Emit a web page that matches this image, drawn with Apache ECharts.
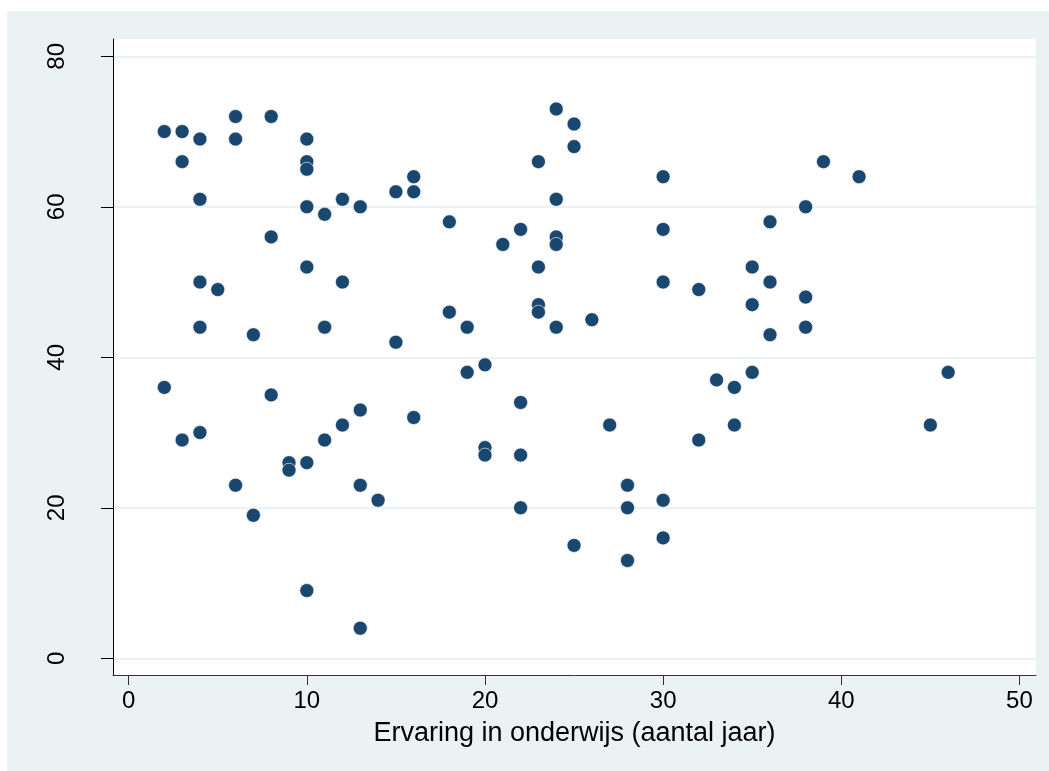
<!DOCTYPE html>
<html>
<head>
<meta charset="utf-8">
<script src="https://cdn.jsdelivr.net/npm/echarts@6/dist/echarts.min.js"></script>
<style>
  html, body { margin: 0; padding: 0; background: #fff; }
  #chart { width: 1049px; height: 771px; }
</style>
</head>
<body>
<div id="chart"></div>
<script>
// experience in teaching (years) vs. second variable
const experience = [
  2, 3, 4, 3, 6, 6, 8, 10, 10, 10, 4, 10, 11, 12, 13, 15, 16, 16, 8, 10,
  12, 4, 5, 4, 7, 11, 15, 18, 19, 2, 8, 13, 16, 12, 11, 3, 4, 9, 9, 10,
  6, 7, 13, 14, 10, 13, 19, 20, 20, 20, 22, 22, 22, 21, 22, 23, 24, 25, 25, 24,
  24, 24, 23, 23, 23, 24, 26, 27, 25, 28, 28, 28, 30, 30, 30, 30, 30, 32, 33, 32,
  34, 34, 35, 35, 35, 36, 36, 36, 38, 38, 38, 39, 41, 45, 46, 18
];
const score = [
  70, 70, 69, 66, 72, 69, 72, 69, 66, 65, 61, 60, 59, 61, 60, 62, 64, 62, 56, 52,
  50, 50, 49, 44, 43, 44, 42, 46, 44, 36, 35, 33, 32, 31, 29, 29, 30, 26, 25, 26,
  23, 19, 23, 21, 9, 4, 38, 39, 28, 27, 34, 27, 20, 55, 57, 66, 73, 71, 68, 61,
  56, 55, 52, 47, 46, 44, 45, 31, 15, 23, 20, 13, 21, 16, 64, 57, 50, 49, 37, 29,
  36, 31, 38, 52, 47, 58, 50, 43, 60, 48, 44, 66, 64, 31, 38, 58
];
const xTicks = [0, 10, 20, 30, 40, 50];
const yTicks = [0, 20, 40, 60, 80];
const xTitle = 'Ervaring in onderwijs (aantal jaar)';

const points = experience.map((x, i) => [x, score[i]]);

const chart = echarts.init(document.getElementById('chart'));
const font = '"Liberation Sans", Arial, sans-serif';
chart.setOption({
  backgroundColor: '#ffffff',
  animation: false,
  textStyle: { fontFamily: font },
  graphic: [{
    type: 'rect',
    z: -10,
    shape: { x: 7, y: 11, width: 1042, height: 760 },
    style: { fill: '#eaf2f3' }
  }],
  grid: {
    left: 113, right: 13, top: 39, bottom: 96,
    show: true, backgroundColor: '#ffffff', borderWidth: 0
  },
  xAxis: {
    type: 'value',
    min: -0.88, max: 50.93,
    name: xTitle,
    nameLocation: 'middle',
    nameGap: 45,
    nameTextStyle: { fontSize: 27, color: '#000', fontFamily: font },
    axisLine: { show: true, onZero: false, lineStyle: { color: '#333', width: 1 } },
    axisTick: { show: true, customValues: xTicks, length: 10, lineStyle: { color: '#333' } },
    axisLabel: { customValues: xTicks, fontSize: 24, color: '#000', margin: 14, fontFamily: font },
    splitLine: { show: false }
  },
  yAxis: {
    type: 'value',
    min: -2.22, max: 82.3,
    axisLine: { show: true, onZero: false, lineStyle: { color: '#000', width: 1 } },
    axisTick: { show: true, customValues: yTicks, length: 12, lineStyle: { color: '#000' } },
    axisLabel: { customValues: yTicks, fontSize: 24, color: '#000', rotate: 90, margin: 44, fontFamily: font },
    splitLine: { show: true, lineStyle: { color: '#eaf2f3', width: 2 } }
  },
  series: [{
    type: 'scatter',
    data: points,
    symbol: 'circle',
    symbolSize: 14,
    itemStyle: { color: '#1a476f', opacity: 1, borderColor: '#ffffff', borderWidth: 0.6 }
  }]
});
</script>
</body>
</html>
